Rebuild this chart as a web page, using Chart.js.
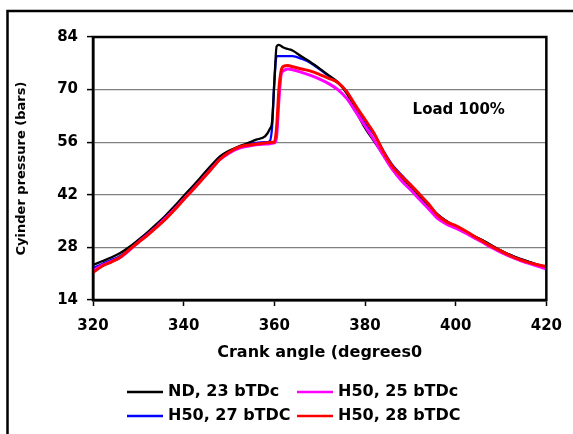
<!DOCTYPE html>
<html>
<head>
<meta charset="utf-8">
<script src="https://cdn.jsdelivr.net/npm/chart.js@4"></script>
<style>
    html, body { margin: 0; padding: 0; background: #fff; }
    #wrap { width: 573px; height: 434px; }
</style>
</head>
<body>
<div id="wrap"><canvas id="pressureChart" width="573" height="434"></canvas></div>
<script>
// crank angle (degrees), finer around TDC where the pressure jumps
const crankAngle = [320, 322, 324, 326, 328, 330, 332, 334, 336, 338, 340, 342, 344, 346, 348, 350, 352, 354, 356, 358,
    359, 359.5, 360, 360.5, 361, 361.5, 362, 363, 364,
    366, 368, 370, 372, 374, 376, 378, 380, 382, 384, 386, 388, 390, 392, 394, 396, 398, 400,
    402, 404, 406, 408, 410, 412, 414, 416, 418, 420];

// cylinder pressure (bars)
const pressureND23 = [23.3, 24.3, 25.3, 26.5, 28.1, 30.0, 32.0, 34.2, 36.5, 39.0, 41.7, 44.3, 47.0, 49.7, 52.2, 53.7, 54.8, 55.7, 56.7, 57.6,
    59.5, 61.5, 72.0, 81.5, 81.9, 81.6, 81.2, 80.8, 80.4,
    78.8, 77.3, 75.6, 73.8, 72.0, 68.9, 64.2, 59.8, 56.2, 52.7, 49.3, 46.6, 44.0, 41.5, 39.0, 36.7, 35.0, 33.5,
    32.3, 31.0, 29.8, 28.5, 27.2, 26.0, 25.0, 24.2, 23.4, 22.7];
const pressureH50_25 = [21.8, 23.2, 24.2, 25.3, 27.2, 29.4, 31.4, 33.5, 35.8, 38.2, 40.8, 43.4, 46.1, 48.8, 51.4, 53.1, 54.3, 54.9, 55.3, 55.5,
    55.6, 55.7, 55.8, 57.5, 67.0, 74.0, 75.0, 75.5, 75.3,
    74.6, 73.8, 72.8, 71.6, 70.0, 67.6, 64.0, 60.3, 56.6, 52.6, 48.8, 45.8, 43.4, 40.8, 38.3, 35.7, 34.2, 33.1,
    31.9, 30.6, 29.3, 27.9, 26.7, 25.6, 24.6, 23.8, 23.0, 22.3];
const pressureH50_27 = [22.5, 23.6, 24.6, 25.7, 27.5, 29.5, 31.5, 33.7, 36.0, 38.5, 41.1, 43.7, 46.4, 49.1, 51.7, 53.5, 54.7, 55.4, 55.8, 56.0,
    56.3, 60.0, 72.0, 78.9, 78.9, 78.9, 78.9, 78.9, 78.9,
    78.2, 77.1, 75.4, 73.6, 71.8, 69.5, 64.8, 61.0, 58.0, 53.8, 50.0, 47.3, 44.8, 42.0, 39.4, 36.8, 35.0, 33.7,
    32.4, 31.0, 29.8, 28.4, 27.1, 26.0, 25.0, 24.2, 23.4, 22.7];
const pressureH50_28 = [21.3, 23.0, 24.1, 25.4, 27.4, 29.3, 31.2, 33.3, 35.5, 38.0, 40.7, 43.3, 46.0, 48.7, 51.4, 53.3, 54.6, 55.2, 55.5, 55.8,
    55.9, 56.0, 56.0, 60.0, 70.0, 75.0, 76.2, 76.4, 76.1,
    75.5, 74.9, 74.0, 73.0, 71.9, 69.4, 65.6, 62.0, 58.4, 53.6, 49.6, 47.0, 44.7, 42.2, 39.6, 36.6, 34.8, 33.8,
    32.5, 31.0, 29.6, 28.2, 27.0, 25.8, 24.8, 24.0, 23.4, 22.9];

const seriesLabels = ['ND, 23 bTDc', 'H50, 25 bTDc', 'H50, 27 bTDC', 'H50, 28 bTDC'];
const seriesValues = [pressureND23, pressureH50_25, pressureH50_27, pressureH50_28];
const seriesColors = ['#000000', '#ff00ff', '#0000ff', '#ff0000'];
const seriesWidths = [2.3, 3, 2.3, 3];
const seriesOrder = [3, 2, 4, 1];

const yTicks = [14, 28, 42, 56, 70, 84];
const xTicks = [320, 340, 360, 380, 400, 420];

const boldFont = (size) => ({ family: 'DejaVu Sans', size: size, weight: 'bold' });

// outer frame, plot frame, legend and the load note
const extrasPlugin = {
    id: 'extras',
    afterDraw(chart) {
        const ctx = chart.ctx;
        const area = chart.chartArea;
        ctx.save();

        ctx.strokeStyle = '#000';
        ctx.lineWidth = 2.5;
        ctx.strokeRect(7.5, 11, 620, 480);
        ctx.strokeRect(area.left, area.top, area.right - area.left, area.bottom - area.top);

        const xs = chart.scales.x, ys = chart.scales.y;
        ctx.fillStyle = '#000';
        ctx.font = 'bold 15px "DejaVu Sans"';
        ctx.textAlign = 'left';
        ctx.textBaseline = 'middle';
        ctx.fillText('Load 100%', xs.getPixelForValue(390.5), ys.getPixelForValue(64.6));

        // two by two legend
        const cols = [127, 297];
        const rows = [392, 416];
        ctx.font = 'bold 16px "DejaVu Sans"';
        chart.data.datasets.forEach((ds, i) => {
            const x = cols[i % 2];
            const y = rows[Math.floor(i / 2)];
            ctx.strokeStyle = ds.borderColor;
            ctx.lineWidth = 2.5;
            ctx.beginPath();
            ctx.moveTo(x, y);
            ctx.lineTo(x + 36, y);
            ctx.stroke();
            ctx.fillStyle = '#000';
            ctx.fillText(ds.label, x + 41, y);
        });
        ctx.restore();
    }
};

const ctx = document.getElementById('pressureChart').getContext('2d');
new Chart(ctx, {
    type: 'line',
    data: {
        datasets: seriesLabels.map((label, i) => ({
            label: label,
            data: crankAngle.map((a, j) => ({ x: a, y: seriesValues[i][j] })),
            borderColor: seriesColors[i],
            backgroundColor: seriesColors[i],
            borderWidth: seriesWidths[i],
            order: seriesOrder[i],
            fill: false,
            pointRadius: 0,
            pointHoverRadius: 0,
            cubicInterpolationMode: 'monotone'
        }))
    },
    options: {
        responsive: false,
        animation: false,
        devicePixelRatio: 1,
        layout: { padding: { left: 0, top: 37, right: 25, bottom: 0 } },
        scales: {
            x: {
                type: 'linear',
                min: 320,
                max: 420,
                afterFit: (s) => { s.height = 134; },
                afterBuildTicks: (s) => { s.ticks = xTicks.map(v => ({ value: v })); },
                grid: { drawOnChartArea: false, drawTicks: true, tickLength: 6, tickColor: '#000', tickWidth: 1.5 },
                border: { display: true, color: '#000', width: 2.5 },
                ticks: { color: '#000', font: boldFont(15), padding: 11, maxRotation: 0 },
                title: { display: true, text: 'Crank angle (degrees0', color: '#000', font: boldFont(16), padding: { top: 0, bottom: 72 } }
            },
            y: {
                min: 14,
                max: 84,
                afterFit: (s) => { s.width = 93; },
                afterBuildTicks: (s) => { s.ticks = yTicks.map(v => ({ value: v })); },
                grid: { color: '#808080', lineWidth: 1.2, drawTicks: true, tickLength: 6, tickColor: '#000', tickWidth: 1.5 },
                border: { display: true, color: '#000', width: 2.5 },
                ticks: { color: '#000', font: boldFont(15), padding: 9 },
                title: { display: true, text: 'Cyinder pressure (bars)', color: '#000', font: boldFont(13), padding: { top: 14, bottom: 0 } }
            }
        },
        plugins: {
            legend: { display: false },
            tooltip: { enabled: false }
        }
    },
    plugins: [extrasPlugin]
});
</script>
</body>
</html>
